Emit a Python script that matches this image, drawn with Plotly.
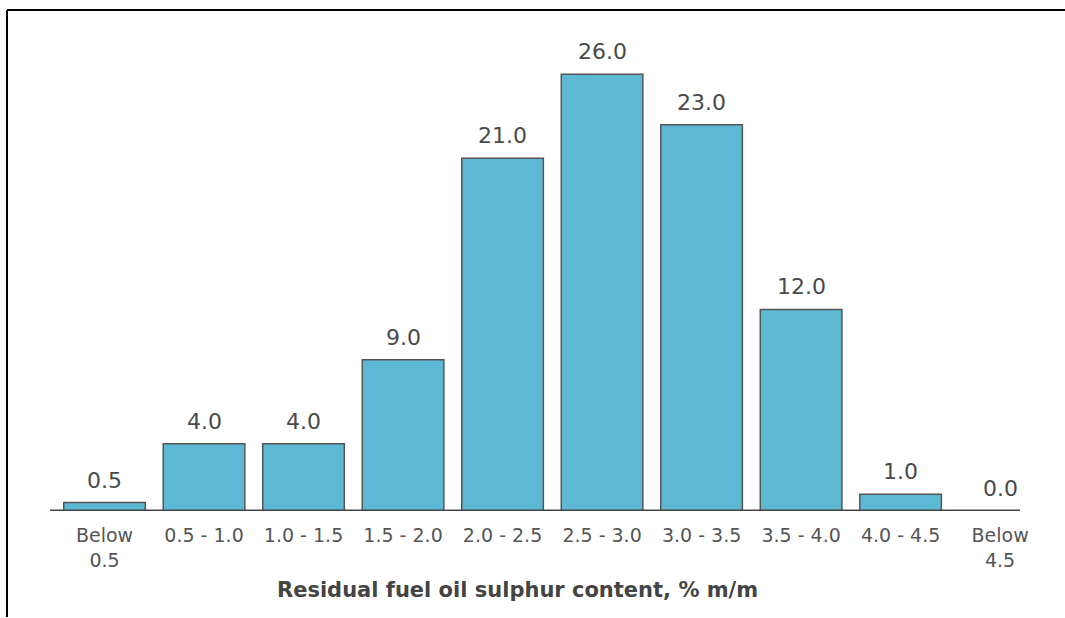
import plotly.graph_objects as go

categories = ["Below<br>0.5", "0.5 - 1.0", "1.0 - 1.5", "1.5 - 2.0", "2.0 - 2.5",
              "2.5 - 3.0", "3.0 - 3.5", "3.5 - 4.0", "4.0 - 4.5", "Below<br>4.5"]
values = [0.5, 4.0, 4.0, 9.0, 21.0, 26.0, 23.0, 12.0, 1.0, 0.0]
value_labels = [f"{v:.1f}" for v in values]
x_title = "Residual fuel oil sulphur content, % m/m"

x_pos = list(range(len(categories)))
FONT = "DejaVu Sans, Verdana, sans-serif"

fig = go.Figure()
fig.add_trace(go.Bar(
    x=x_pos, y=values,
    marker=dict(color="#5cb8d3", line=dict(color="#555555", width=1.5)),
    width=0.82,
))

W, H = 1065, 618
l, r, t, b = 50, 45, 40, 107
pw, ph = W - l - r, H - t - b

def px_x(px):
    return (px - l) / pw

def px_y(py):
    return (H - b - py) / ph

annotations = [
    dict(x=xi, y=v, xref="x", yref="y", text=txt, showarrow=False,
         yanchor="bottom", xanchor="center", yshift=8,
         font=dict(family=FONT, size=22, color="#4a4a4a"))
    for xi, v, txt in zip(x_pos, values, value_labels)
]
annotations.append(dict(
    x=px_x(517), y=px_y(590), xref="paper", yref="paper",
    text=f"<b>{x_title}</b>", showarrow=False,
    xanchor="center", yanchor="middle",
    font=dict(family=FONT, size=21, color="#444444"),
))

fig.update_layout(
    width=W, height=H,
    margin=dict(l=l, r=r, t=t, b=b),
    paper_bgcolor="white", plot_bgcolor="white",
    showlegend=False,
    annotations=annotations,
    xaxis=dict(
        range=[-0.548, 9.2],
        tickmode="array", tickvals=x_pos, ticktext=categories,
        tickfont=dict(family=FONT, size=19, color="#555555"),
        ticklabelstandoff=11,
        showgrid=False, zeroline=False, showline=False, ticks="",
    ),
    yaxis=dict(range=[0, 28.04], visible=False, showgrid=False, zeroline=False),
    shapes=[
        dict(type="line", xref="paper", yref="y", x0=0, x1=1, y0=0, y1=0,
             line=dict(color="#444444", width=3)),
        dict(type="line", xref="paper", yref="paper", x0=px_x(7), x1=px_x(1065),
             y0=px_y(10), y1=px_y(10), line=dict(color="black", width=2)),
        dict(type="line", xref="paper", yref="paper", x0=px_x(7), x1=px_x(7),
             y0=px_y(10), y1=px_y(617), line=dict(color="black", width=2)),
    ],
)

fig.write_html("out.html")
